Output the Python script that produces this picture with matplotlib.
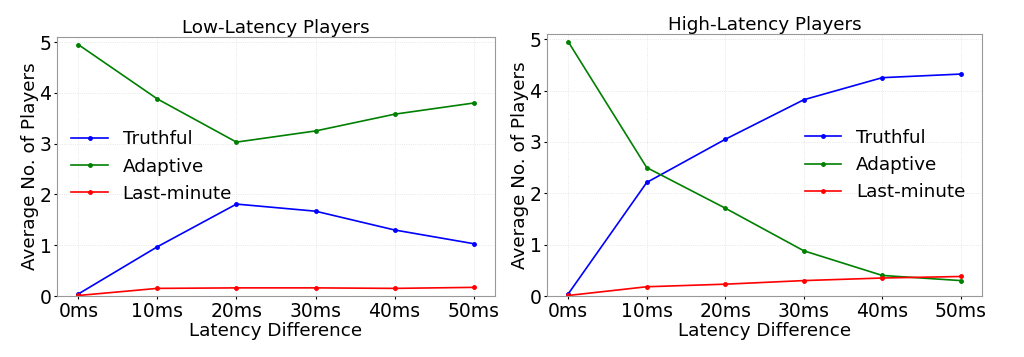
import numpy as np
import matplotlib.pyplot as plt

latency = ['0ms', '10ms', '20ms', '30ms', '40ms', '50ms']

# Low-latency players
low_truthful = [0.04, 0.97, 1.81, 1.67, 1.30, 1.03]
low_adaptive = [4.95, 3.88, 3.03, 3.25, 3.58, 3.80]
low_lastmin = [0.01, 0.15, 0.16, 0.16, 0.15, 0.17]

# High-latency players
high_truthful = [0.04, 2.21, 3.05, 3.82, 4.25, 4.32]
high_adaptive = [4.95, 2.50, 1.71, 0.88, 0.40, 0.30]
high_lastmin = [0.01, 0.18, 0.23, 0.30, 0.35, 0.38]

fig = plt.figure(figsize=(10.24, 3.57), dpi=100)
ax1 = fig.add_axes([57/1024, 1 - 296/357, 438/1024, 259/357])
ax2 = fig.add_axes([547/1024, 1 - 296/357, 435/1024, 262/357])

panels = [
    (ax1, 'Low-Latency Players', low_truthful, low_adaptive, low_lastmin, 'center left', (-0.005, 0.5)),
    (ax2, 'High-Latency Players', high_truthful, high_adaptive, high_lastmin, 'center right', (1.0, 0.5)),
]

x = np.arange(len(latency))
for ax, title, tr, ad, lm, loc, anchor in panels:
    ax.plot(x, tr, color='blue', marker='o', markersize=2.5, linewidth=1.2, label='Truthful')
    ax.plot(x, ad, color='green', marker='o', markersize=2.5, linewidth=1.2, label='Adaptive')
    ax.plot(x, lm, color='red', marker='o', markersize=2.5, linewidth=1.2, label='Last-minute')
    ax.set_title(title, fontsize=13.2, pad=3)
    ax.set_xlabel('Latency Difference', fontsize=13.2, labelpad=1)
    ax.set_ylabel('Average No. of Players', fontsize=13.2, labelpad=0)
    ax.set_xticks(x)
    ax.set_xticklabels(latency)
    ax.tick_params(labelsize=13.5, length=2, pad=2)
    ax.set_xlim(-0.27, 5.27)
    ax.set_ylim(0, 5.1)
    ax.set_yticks([0, 1, 2, 3, 4, 5])
    ax.grid(True, color='#dddddd', linewidth=0.6, linestyle=':', alpha=0.9)
    for s in ax.spines.values():
        s.set_color('#999999')
    ax.legend(loc=loc, bbox_to_anchor=anchor, frameon=False, fontsize=13.2)

plt.savefig('out.png', dpi=100, facecolor='white')
plt.close()
